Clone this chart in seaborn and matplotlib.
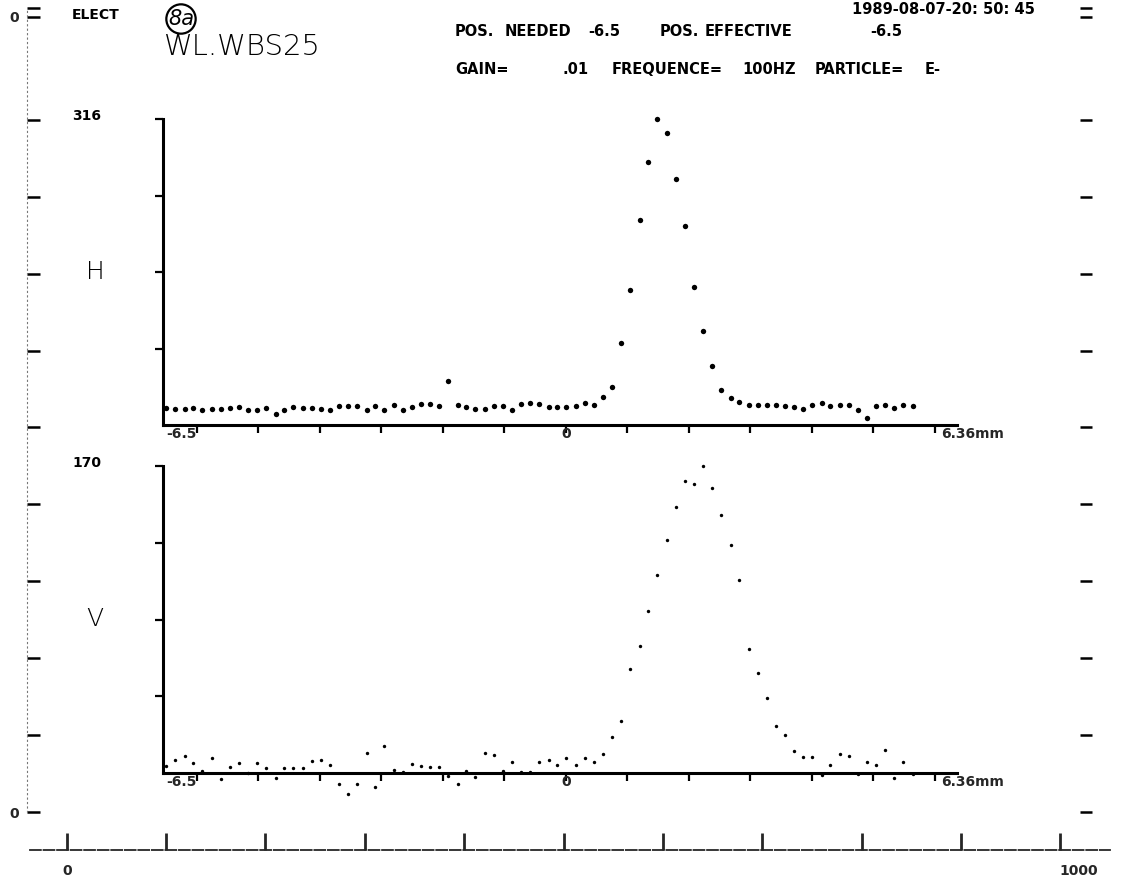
import matplotlib
matplotlib.use("Agg")
import matplotlib.pyplot as plt
import matplotlib.transforms as mtransforms
import seaborn as sns
import pandas as pd

# ---------------- data ----------------
pos_mm = [-6.50, -6.35, -6.20, -6.06, -5.91, -5.76, -5.61, -5.46, -5.32, -5.17,
          -5.02, -4.87, -4.72, -4.58, -4.43, -4.28, -4.13, -3.98, -3.84, -3.69,
          -3.54, -3.39, -3.24, -3.10, -2.95, -2.80, -2.65, -2.50, -2.36, -2.21,
          -2.06, -1.91, -1.76, -1.62, -1.47, -1.32, -1.17, -1.02, -0.88, -0.73,
          -0.58, -0.43, -0.28, -0.14, 0.01, 0.16, 0.31, 0.46, 0.60, 0.75,
          0.90, 1.05, 1.20, 1.34, 1.49, 1.64, 1.79, 1.94, 2.08, 2.23,
          2.38, 2.53, 2.68, 2.82, 2.97, 3.12, 3.27, 3.42, 3.56, 3.71,
          3.86, 4.01, 4.16, 4.30, 4.45, 4.60, 4.75, 4.90, 5.04, 5.19,
          5.34, 5.49, 5.64]

h_counts = [17.8, 16.7, 16.7, 17.4, 15.7, 16.7, 16.7, 17.4, 18.5, 15.0,
            15.7, 17.4, 11.6, 15.7, 18.5, 17.8, 17.4, 16.7, 15.7, 19.2,
            19.2, 19.2, 15.0, 19.8, 15.7, 20.2, 15.0, 18.5, 21.9, 21.2,
            19.2, 45.8, 20.2, 18.5, 16.1, 16.1, 19.2, 19.2, 15.7, 21.9,
            22.6, 21.2, 18.5, 18.5, 18.5, 19.2, 22.6, 20.9, 28.4, 39.0,
            85, 139, 212, 272, 316, 302, 254, 205, 143, 97,
            61, 36, 28, 24, 20.2, 20.2, 20.2, 20.2, 19.2, 18.5,
            16.7, 20.9, 22.6, 19.2, 20.2, 20.2, 15.7, 7.2, 19.2, 20.9,
            17.8, 20.2, 19.2]

v_counts = [3.9, 7.2, 9.4, 5.4, 1.3, 8.5, -3.5, 3.5, 5.4, -0.2,
            5.4, 2.6, -2.9, 2.9, 2.9, 2.9, 6.8, 7.2, 4.4, -6.1,
            -11.6, -6.1, 10.9, -7.6, 15.1, 1.7, 0.7, 4.8, 4.1, 3.1,
            3.1, -1.7, -6.1, 1.0, -2.4, 11.3, 10.0, 1.0, 5.9, 0.5,
            0.5, 6.3, 7.2, 4.3, 8.1, 4.3, 8.3, 6.3, 10.5, 19.8,
            29.0, 57.4, 70.2, 89.9, 109.8, 129.0, 147.1, 161.8, 159.9, 170.0,
            157.6, 143.0, 126.2, 107.0, 68.7, 55.5, 41.7, 26.0, 21.2, 12.3,
            8.7, 9.0, -1.1, 4.4, 10.3, 9.4, -0.6, 5.9, 4.4, 12.7,
            -2.9, 6.3, -0.6]

h_max, v_max = 316, 170
x_left, x_right = -6.55, 6.36
x_tick_mm = [-6, -5, -4, -3, -2, -1, 0, 1, 2, 3, 4, 5, 6]
x_tick_labels = ["-6.5", "0", "6.36mm"]
frame_ticks = [0, 1, 2, 3, 4, 5, 6, 7, 8, 9, 10.34, 10.45]
frame_labels = ["0", "", "", "", "", "", "", "", "", "", "0", ""]
bottom_ticks = [0, 100, 200, 300, 400, 500, 600, 700, 800, 900, 1000]
bottom_labels = ["0", "", "", "", "", "", "", "", "", "", "1000"]

header_date = "1989-08-07-20: 50: 45"

# ---------------- figure ----------------
sns.set_theme(style="ticks")
plt.rcParams["font.family"] = ["DejaVu Sans"]

W, H = 1123, 881
fig = plt.figure(figsize=(W / 100, H / 100), dpi=100)
fig.patch.set_facecolor("white")


def rect(l, t, r, b):
    return [l / W, 1 - b / H, (r - l) / W, (b - t) / H]


def ftxt(x, y, s, size=10.5, weight="bold", ha="left", va="center", **kw):
    fig.text(x / W, 1 - y / H, s, fontsize=size, fontweight=weight,
             ha=ha, va=va, color="black", **kw)


# outer frame (left / right tick columns)
axf = fig.add_axes(rect(27, 8, 1092, 812), zorder=0)
axf.set_xlim(0, 1)
axf.set_ylim(0, 10.455)
axf.patch.set_visible(False)
for s in ["top", "bottom", "right"]:
    axf.spines[s].set_visible(False)
axf.spines["left"].set_linestyle((0, (1, 3)))
axf.spines["left"].set_linewidth(0.8)
axf.spines["left"].set_color("#777777")
axf.set_xticks([])
axf.set_yticks(frame_ticks)
axf.set_yticklabels(frame_labels)
axf.tick_params(axis="y", direction="in", length=9, width=1.8, color="black",
                left=True, right=True, labelsize=10, pad=6)
for lab in axf.get_yticklabels():
    lab.set_fontweight("bold")

# bottom counter axis
axb = fig.add_axes(rect(30, 830, 1110, 850), zorder=0)
axb.set_xlim(-37, 1050)
axb.set_ylim(0, 1)
axb.patch.set_visible(False)
for s in ["top", "left", "right"]:
    axb.spines[s].set_visible(False)
axb.spines["bottom"].set_linewidth(1.3)
axb.spines["bottom"].set_linestyle((0, (6, 1.5)))
axb.set_yticks([])
axb.set_xticks(bottom_ticks)
axb.set_xticklabels(bottom_labels)
axb.tick_params(axis="x", direction="in", length=12, width=2, labelsize=10, pad=10)
for i, lab in enumerate(axb.get_xticklabels()):
    lab.set_fontweight("bold")
    if i == len(bottom_ticks) - 1:
        lab.set_transform(lab.get_transform() +
                          mtransforms.ScaledTranslation(0.18, 0, fig.dpi_scale_trans))


def panel(top, bottom, values, ymax, size, top_label, letter):
    ax = fig.add_axes(rect(163, top, 957, bottom), zorder=2)
    df = pd.DataFrame({"pos": pos_mm, "val": values})
    sns.scatterplot(data=df, x="pos", y="val", ax=ax, color="black", s=size,
                    linewidth=0, legend=False, clip_on=False)
    ax.set_xlim(x_left, x_right)
    ax.set_ylim(0, ymax)
    ax.patch.set_visible(False)
    ax.set_xlabel("")
    ax.set_ylabel("")
    for s in ["top", "right"]:
        ax.spines[s].set_visible(False)
    for s in ["left", "bottom"]:
        ax.spines[s].set_linewidth(2.2)
        ax.spines[s].set_color("black")
    ax.set_xticks(x_tick_mm)
    ax.set_xticklabels([])
    ax.set_yticks([ymax / 4, ymax / 2, 3 * ymax / 4, ymax])
    ax.set_yticklabels([])
    ax.tick_params(axis="both", direction="out", length=6, width=1.6, color="black")
    tr = ax.get_xaxis_transform()
    lab_y = -8.5 / (bottom - top)
    ax.text(-6.5, lab_y, x_tick_labels[0], transform=tr, ha="left", va="center",
            fontsize=10, fontweight="bold")
    ax.text(0, lab_y, x_tick_labels[1], transform=tr, ha="center", va="center",
            fontsize=10, fontweight="bold")
    ax.text(6.1, lab_y, x_tick_labels[2], transform=tr, ha="left", va="center",
            fontsize=10, fontweight="bold")
    ftxt(87, top - 3, top_label, size=10, ha="center")
    ftxt(95, (top + bottom) / 2, letter, size=18, weight="light", ha="center")
    return ax


panel(119, 425, h_counts, h_max, 15, str(h_max), "H")
panel(466, 773, v_counts, v_max, 6, str(v_max), "V")

# header texts
ftxt(72, 15, "ELECT", size=10)
ftxt(181, 19, "8a", size=15, weight="normal", ha="center", style="italic",
     bbox=dict(boxstyle="circle,pad=0.08", fc="none", ec="black", lw=1.6))
ftxt(164, 47, "WL.WBS25", size=21, weight="light")
ftxt(1035, 10, header_date, ha="right")
for x, w in [(455, "POS."), (505, "NEEDED"), (588, "-6.5"), (660, "POS."),
             (705, "EFFECTIVE"), (870, "-6.5")]:
    ftxt(x, 31, w)
for x, w in [(455, "GAIN="), (563, ".01"), (612, "FREQUENCE="), (742, "100HZ"),
             (815, "PARTICLE="), (925, "E-")]:
    ftxt(x, 70, w)

fig.savefig("out.png", dpi=100, facecolor="white")
